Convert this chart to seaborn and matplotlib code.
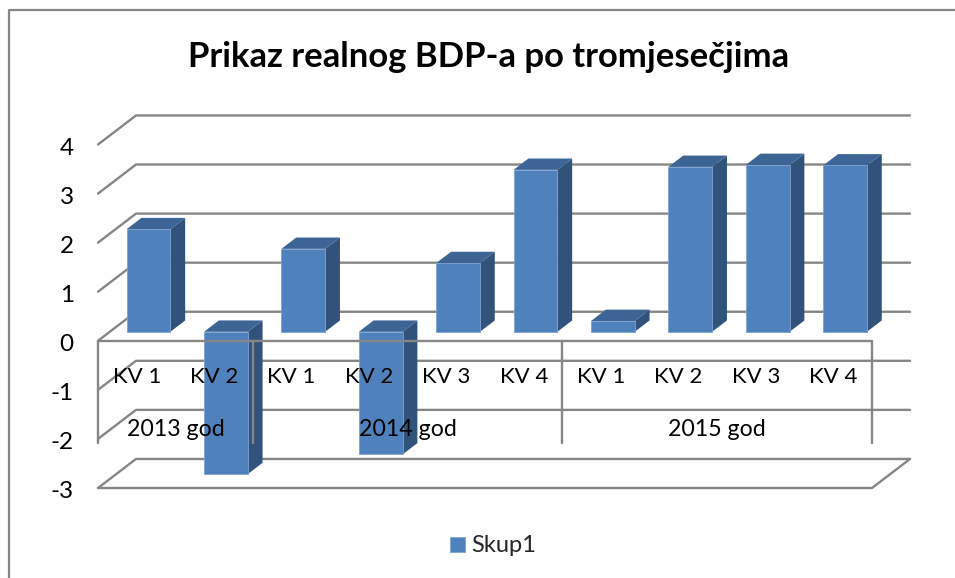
import matplotlib
matplotlib.use("Agg")
import matplotlib.pyplot as plt
from matplotlib.lines import Line2D
from matplotlib.transforms import Affine2D
import seaborn as sns
import pandas as pd

# data
quarters = ["KV 1", "KV 2", "KV 1", "KV 2", "KV 3", "KV 4", "KV 1", "KV 2", "KV 3", "KV 4"]
values = [2.09, -2.9, 1.69, -2.5, 1.4, 3.3, 0.22, 3.36, 3.4, 3.39]
years = ["2013 god", "2014 god", "2015 god"]
year_sizes = [2, 4, 4]
y_ticks = [-3, -2, -1, 0, 1, 2, 3, 4]

W, H = 955, 578
FRONT = "#4F81BD"
SIDE = "#31527B"
TOP = "#3C6494"
GRID = "#868686"
LW = 1.7

sns.set_style("white")
plt.rcParams['font.family'] = ['Lato', 'DejaVu Sans']

fig = plt.figure(figsize=(W / 100, H / 100), dpi=100, facecolor="white")
# axes = the front plane of the 3d box
ax = fig.add_axes([98 / W, 1 - 488 / H, 774 / W, 343.5 / H])
ax.patch.set_visible(False)

df = pd.DataFrame({"pos": range(len(values)), "value": values})
sns.barplot(data=df, x="pos", y="value", color=FRONT, saturation=1, width=0.565,
            label="Skup1", ax=ax, zorder=5, clip_on=False)

ax.set_xlim(-0.5, len(values) - 0.5)
ax.set_ylim(-3, 4)
sns.despine(ax=ax, left=True, bottom=True)

# depth of the box in data units
depth_x = 38 / 77.4
depth_y = 29 / 49
bar_start = 0.31
bar_depth = 0.39
x0, x1 = ax.get_xlim()

# back wall lines and left slants
for v in y_ticks:
    ax.plot([x0, x0 + depth_x, x1 + depth_x], [v, v + depth_y, v + depth_y],
            color=GRID, lw=LW, zorder=1, clip_on=False)
# floor
ax.plot([x0, x1, x1 + depth_x], [-3, -3, -3 + depth_y], color=GRID, lw=LW, zorder=1, clip_on=False)

# bars: push them back in the box and add the side and top faces
for bar in ax.containers[0]:
    bar.set_x(bar.get_x() + bar_start * depth_x)
    bar.set_y(bar.get_y() + bar_start * depth_y)
    bar.set_edgecolor("#7DA3D1")
    bar.set_linewidth(0.6)
    left, right = bar.get_x(), bar.get_x() + bar.get_width()
    low, high = sorted([bar.get_y(), bar.get_y() + bar.get_height()])
    dx, dy = bar_depth * depth_x, bar_depth * depth_y
    ax.fill([right, right + dx, right + dx, right], [low, low + dy, high + dy, high],
            color=SIDE, lw=0, zorder=4, clip_on=False)
    ax.fill([left, left + dx, right + dx, right], [high, high + dy, high + dy, high],
            color=TOP, lw=0, zorder=4, clip_on=False)

# front plane lines, they run over the bars
ax.plot([x0, x1], [0, 0], color=GRID, lw=LW, zorder=6, clip_on=False)
start = x0
divider_low = -2.09
ax.plot([start, start], [0, divider_low], color=GRID, lw=LW, zorder=6, clip_on=False)
for name, size in zip(years, year_sizes):
    ax.plot([start + size, start + size], [0, divider_low], color=GRID, lw=LW, zorder=6, clip_on=False)
    ax.text(start + size / 2, -1.81, name, ha="center", va="center", fontsize=16.7, color="black", zorder=7)
    start += size

for i, name in enumerate(quarters):
    ax.text(i, -0.74, name, ha="center", va="center", fontsize=16, color="black", zorder=7)

ax.set_xticks([])
ax.set_xlabel("")
ax.set_ylabel("")
ax.set_yticks(y_ticks)
ax.set_yticklabels([str(v) for v in y_ticks], fontsize=17.5, color="black")
ax.tick_params(axis="y", length=0, pad=17.5)
for lab in ax.get_yticklabels():
    lab.set_transform(lab.get_transform() + Affine2D().translate(0, -2))

fig.text(489 / W, 1 - 57 / H, "Prikaz realnog BDP-a po tromjesečjima",
         ha="center", va="center", fontsize=24.9, fontweight="bold", color="black")

ax.legend(loc="center", bbox_to_anchor=(493 / W, 1 - 546 / H), bbox_transform=fig.transFigure,
          frameon=False, fontsize=17, handlelength=0.636, handleheight=0.6, handletextpad=0.3)

# chart border, right and bottom run off the picture
fig.add_artist(Line2D([8.5 / W, 8.5 / W, 1], [0, 1 - 10 / H, 1 - 10 / H], color=GRID, lw=1.6))

fig.savefig("out.png", dpi=100)
